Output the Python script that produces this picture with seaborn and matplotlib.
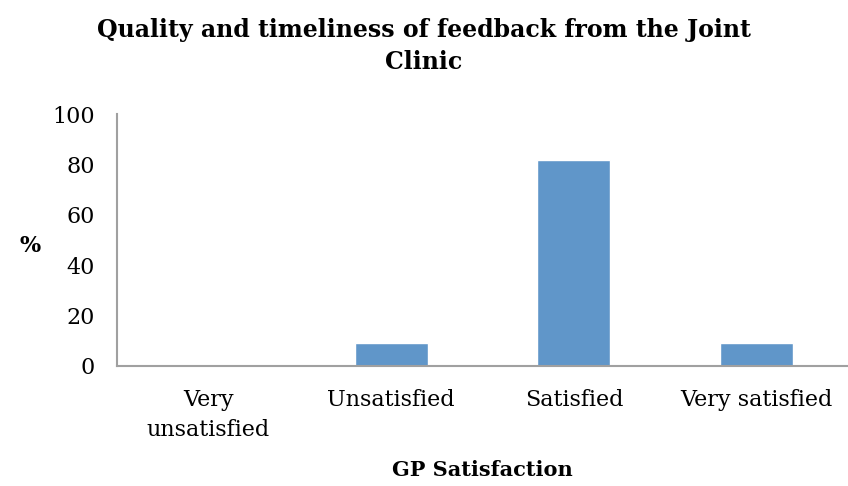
import pandas as pd
import matplotlib.pyplot as plt
import seaborn as sns

# === Data ===
categories = ["Very\nunsatisfied", "Unsatisfied", "Satisfied", "Very satisfied"]
percent = [0, 9, 82, 9]
y_ticks = [0, 20, 40, 60, 80, 100]

df = pd.DataFrame({"satisfaction": categories, "percent": percent})

# === Style ===
sns.set_style("white")
plt.rcParams["font.family"] = ["DejaVu Serif"]
plt.rcParams["text.color"] = "black"
plt.rcParams["xtick.color"] = "black"
plt.rcParams["ytick.color"] = "black"
plt.rcParams["axes.labelcolor"] = "black"
axis_grey = "#A0A0A0"
bar_blue = "#6096C9"

fig = plt.figure(figsize=(8.48, 4.86), dpi=100)
ax = fig.add_axes([0.138, 0.2476, 0.862, 0.5172])

sns.barplot(data=df, x="satisfaction", y="percent", color=bar_blue,
            width=0.4, saturation=1, ax=ax)

ax.set_xlim(-0.5, len(categories) - 0.5)
ax.set_ylim(0, 100)
ax.set_yticks(y_ticks)
ax.tick_params(axis="y", labelsize=16, length=9, width=1.5, color=axis_grey,
               labelcolor="black", pad=7)
ax.tick_params(axis="x", which="major", labelsize=16, length=0, pad=17,
               labelcolor="black")
for lbl in ax.get_xticklabels():
    lbl.set_linespacing(1.45)
ax.set_xticks([i - 0.5 for i in range(len(categories) + 1)], minor=True)
ax.tick_params(axis="x", which="minor", length=9, width=1.5, color=axis_grey)

for side in ["top", "right"]:
    ax.spines[side].set_visible(False)
for side in ["left", "bottom"]:
    ax.spines[side].set_color(axis_grey)
    ax.spines[side].set_linewidth(1.5)

ax.set_xlabel("GP Satisfaction", fontsize=15, fontweight="bold", va="center")
ax.xaxis.set_label_coords(0.5, -0.415)
ax.set_ylabel("%", fontsize=16, fontweight="bold", rotation=0, va="center")
ax.yaxis.set_label_coords(-0.119, 0.475)

fig.suptitle("Quality and timeliness of feedback from the Joint\nClinic",
             x=0.5, y=0.962, fontsize=17, fontweight="bold", linespacing=1.4)

fig.savefig("out.png", dpi=100)
